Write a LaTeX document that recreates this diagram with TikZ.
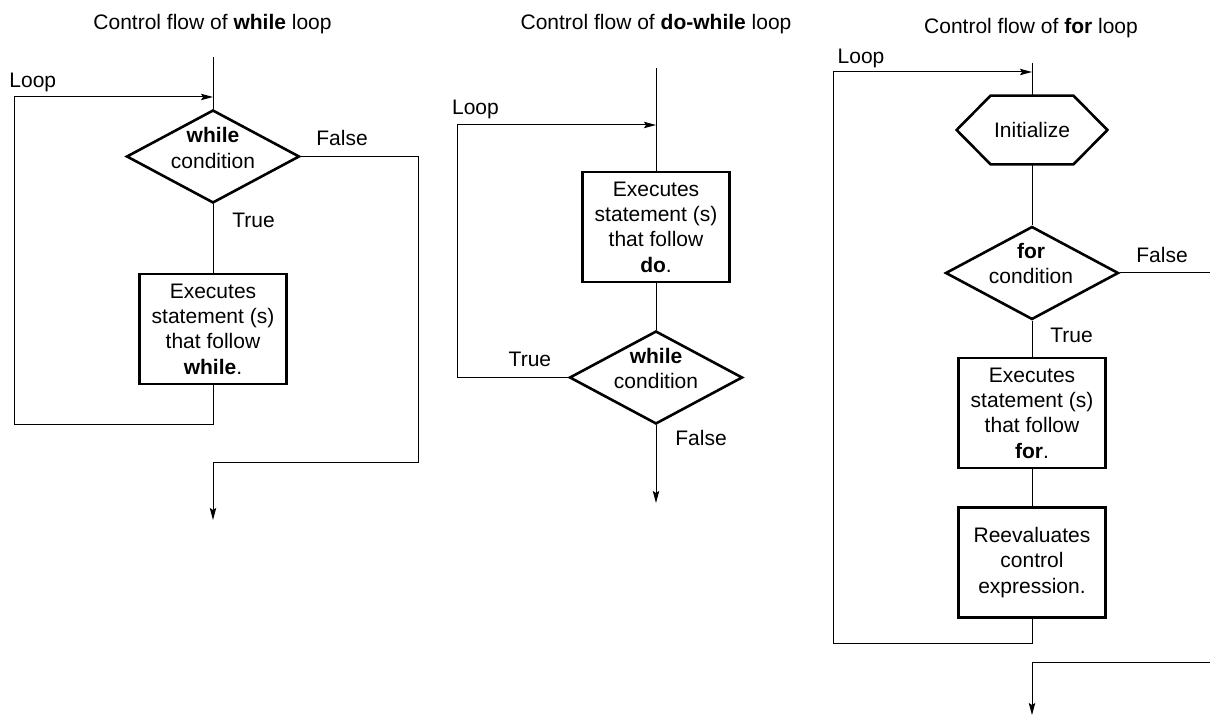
\documentclass[tikz,border=0pt]{standalone}
\usepackage{fontspec}
\setmainfont{Liberation Sans}
\usetikzlibrary{arrows.meta,shapes.geometric}
\begin{document}
\begin{tikzpicture}[x=0.5pt,y=-0.5pt,
  every node/.style={font=\fontsize{10.5pt}{12.65pt}\selectfont},
  conn/.style={line width=0.5pt},
  arr/.style={conn,-{Stealth[length=6pt,width=3.2pt,inset=1pt]}},
  lbl/.style={anchor=base west,inner sep=0pt},
  ttl/.style={anchor=base,inner sep=0pt},
  decision/.style={diamond,draw,line width=1.3pt,minimum width=86.5pt,minimum height=46.5pt,inner sep=0pt},
  stmt/.style={rectangle,draw,line width=1.3pt,minimum width=73.5pt,minimum height=55pt,inner sep=0pt,align=center},
  dtext/.style={align=center,inner sep=0pt},
  hexa/.style={rectangle,minimum width=75pt,minimum height=34pt,inner sep=0pt},
  shapeline/.style={line width=1.3pt,line join=miter}
]
\useasboundingbox (0,0) rectangle (1210,715);
\clip (0,0) rectangle (1210,715);

% ================= while loop =================
\node[ttl] (wtitle) at (212.5,29.3) {Control flow of \textbf{while} loop};
\coordinate (wtop) at (213,57);
\coordinate (win) at (213,97);
\node[decision] (wcond) at (213,156.5) {};
\node[dtext] (wcondt) at (213,148) {\textbf{while}\\condition};
\node[stmt] (wbox) at (213,329) {Executes\\statement (s)\\that follow\\\textbf{while}.};
\coordinate (wlb) at (14,425);
\coordinate (wf1) at (418,463);
\coordinate (wend) at (213,520);
\node[lbl] (wloop) at (9,87.5) {Loop};
\node[lbl] (wfalse) at (316,145.7) {False};
\node[lbl] (wtrue) at (232,228) {True};

\draw[conn] (wtop) -- (wcond.north);
\draw[conn] (wcond.south) -- (wbox.north);
\draw[arr] (wbox.south) |- (wlb) |- (win);
\draw[arr] (wcond.east) -| (wf1) -| (wend);

% ================= do-while loop =================
\node[ttl] (dtitle) at (656,29.3) {Control flow of \textbf{do-while} loop};
\coordinate (dtop) at (656,68);
\coordinate (din) at (656,125);
\node[stmt] (dbox) at (656,227) {Executes\\statement (s)\\that follow\\\textbf{do}.};
\node[decision] (dcond) at (656,377.5) {};
\node[dtext] (dcondt) at (656,368.2) {\textbf{while}\\condition};
\coordinate (dl) at (457,125);
\coordinate (dend) at (656,503);
\node[lbl] (dloop) at (451.7,115) {Loop};
\node[lbl] (dtrue) at (508.3,366.7) {True};
\node[lbl] (dfalse) at (675,446) {False};

\draw[conn] (dtop) -- (dbox.north);
\draw[conn] (dbox.south) -- (dcond.north);
\draw[arr] (dcond.west) -| (dl) -- (din);
\draw[arr] (dcond.south) -- (dend);

% ================= for loop =================
\node[ttl] (ftitle) at (1031,33.5) {Control flow of \textbf{for} loop};
\coordinate (ftop) at (1032,63);
\coordinate (fin) at (1032,72);
\node[hexa] (init) at (1032,130) {Initialize};
\draw[shapeline] (init.west) -- ([xshift=17pt]init.north west) -- ([xshift=-17pt]init.north east)
  -- (init.east) -- ([xshift=-17pt]init.south east) -- ([xshift=17pt]init.south west) -- cycle;
\node[decision] (fcond) at (1032,273) {};
\node[dtext] (fcondt) at (1031,263.2) {\textbf{for}\\condition};
\node[stmt] (fbox1) at (1032,413) {Executes\\statement (s)\\that follow\\\textbf{for}.};
\node[stmt] (fbox2) at (1032,562.5) {Reevaluates\\control\\expression.};
\coordinate (fl) at (833,644);
\coordinate (fr) at (1218,662);
\coordinate (fend) at (1032,715);
\node[lbl] (floop) at (837.3,63.3) {Loop};
\node[lbl] (ffalse) at (1136,262.3) {False};
\node[lbl] (ftrue) at (1050,342.7) {True};

\draw[conn] (ftop) -- (init.north);
\draw[conn] (init.south) -- (fcond.north);
\draw[conn] (fcond.south) -- (fbox1.north);
\draw[conn] (fbox1.south) -- (fbox2.north);
\draw[arr] (fbox2.south) |- (fl) |- (fin);
\draw[arr] (fcond.east) -| (fr) -| (fend);
\end{tikzpicture}
\end{document}
